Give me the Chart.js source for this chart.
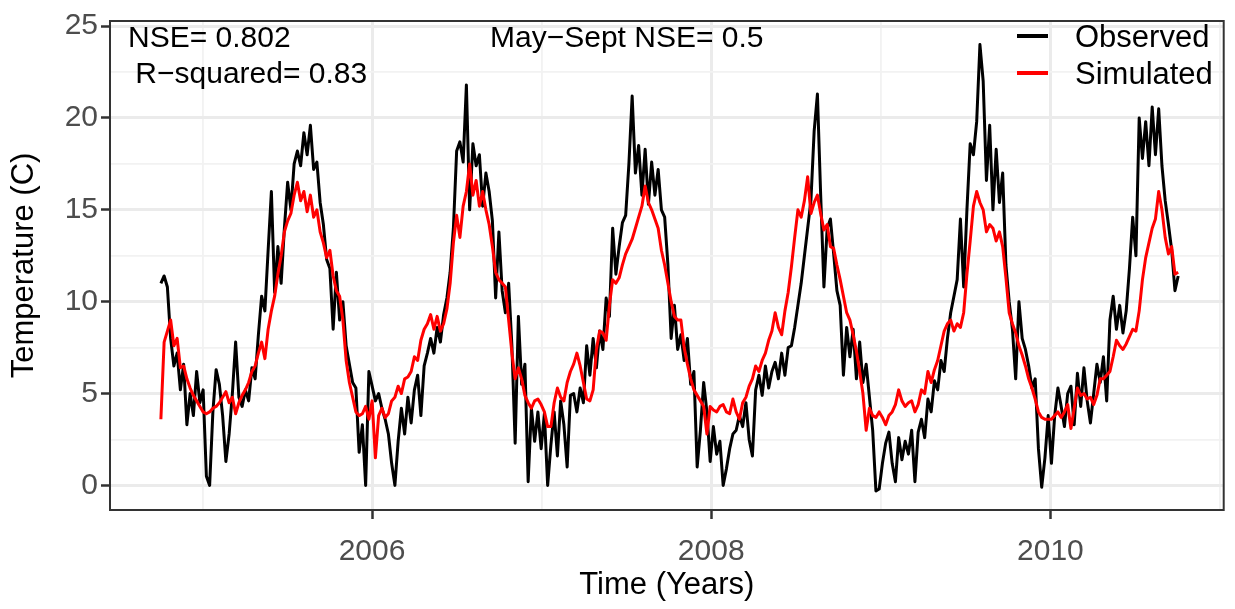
<!DOCTYPE html>
<html>
<head>
<meta charset="utf-8">
<title>Observed vs simulated temperature</title>
<script src="https://cdn.jsdelivr.net/npm/chart.js@4.4.0/dist/chart.umd.min.js"></script>
<style>
  html, body { margin: 0; padding: 0; background: #fff; }
  canvas { display: block; }
</style>
</head>
<body>
<canvas id="tempChart" width="1235" height="609"></canvas>
<script>
// weekly samples, first one late Sept 2004
const startYear = 2004.755;
const stepYears = 7 / 365.25;

const obsTemp = [
  11.0, 11.4, 10.8, 8.0, 6.5, 7.2, 5.2, 6.6, 3.3, 5.0,
  3.8, 6.2, 4.5, 5.2, 0.5, 0.0, 4.0, 6.3, 5.5, 3.8,
  1.3, 2.8, 5.0, 7.8, 4.8, 4.3, 5.2, 4.6, 6.4, 5.8,
  8.2, 10.3, 9.5, 12.8, 16.0, 10.5, 13.0, 11.0, 14.0, 16.5,
  15.0, 17.5, 18.2, 17.4, 19.2, 18.0, 19.6, 17.2, 17.6, 15.4,
  14.2, 12.3, 11.8, 8.5, 11.6, 9.0, 10.0, 7.6, 6.6, 5.6,
  5.3, 1.8, 3.3, 0.0, 6.2, 5.4, 4.6, 5.0, 4.2, 3.6,
  2.8, 1.2, 0.0, 2.4, 4.2, 2.8, 4.8, 3.4, 5.2, 6.0,
  3.8, 6.5, 7.2, 8.0, 7.2, 8.6, 7.8, 9.3, 10.2, 11.6,
  14.0, 18.2, 18.7, 17.6, 21.8, 15.0, 18.6, 17.4, 18.0, 15.2,
  17.0, 16.0, 14.4, 10.2, 13.8, 10.6, 9.4, 11.0, 7.6, 2.3,
  9.2, 5.5, 6.6, 0.2, 4.2, 2.4, 4.0, 2.0, 3.9, 0.0,
  2.2, 4.0, 1.6, 4.6, 3.3, 1.0, 4.9, 5.0, 4.0, 5.3,
  4.5, 7.6, 6.0, 8.0, 6.4, 8.4, 7.4, 10.2, 9.2, 14.0,
  11.5, 13.0, 14.3, 14.7, 17.5, 21.2, 17.0, 18.5, 15.8, 18.3,
  15.3, 17.6, 15.8, 17.2, 15.0, 14.6, 12.0, 8.0, 9.8, 7.4,
  8.2, 6.8, 8.0, 5.5, 6.2, 1.0, 3.0, 5.6, 4.0, 1.3,
  3.2, 1.7, 2.4, 0.0, 0.9, 2.0, 2.8, 3.0, 3.8, 3.2,
  4.5, 2.5, 1.6, 5.2, 6.0, 4.9, 6.5, 5.3, 6.2, 6.7,
  5.8, 7.2, 6.0, 7.5, 7.6, 8.6, 9.8, 11.0, 12.5, 14.0,
  15.5, 19.3, 21.3, 15.8, 10.8, 14.0, 14.5, 12.6, 10.6, 9.8,
  6.0, 8.6, 7.0, 8.5, 5.8, 7.8, 5.6, 6.6, 4.8, 3.0,
  -0.3, -0.2, 1.2, 2.3, 2.9, 1.2, 0.2, 2.6, 1.4, 2.4,
  1.7, 3.0, 0.2, 2.9, 3.6, 2.6, 4.7, 4.0, 5.7, 5.2,
  6.8, 6.2, 8.0, 9.4, 10.3, 11.2, 14.5, 10.8, 15.0, 18.6,
  18.0, 19.8, 24.0, 22.0, 16.6, 19.6, 15.0, 18.3, 15.4, 17.0,
  12.0, 10.0, 8.5, 5.8, 10.0, 8.0, 7.4, 6.5, 5.3, 5.8,
  2.0, -0.1, 1.5, 3.8, 1.2, 3.8, 5.3, 4.3, 3.2, 5.0,
  5.4, 3.3, 6.1, 4.3, 6.4, 4.6, 3.4, 5.0, 6.6, 5.6,
  7.0, 4.6, 9.0, 10.3, 8.5, 9.8, 8.3, 9.5, 11.8, 14.6,
  12.5, 20.0, 17.8, 19.8, 17.4, 20.6, 18.0, 20.5, 17.4, 15.5,
  14.2, 12.8, 10.6, 11.4
];

const simTemp = [
  3.6, 7.8, 8.4, 9.0, 7.6, 8.0, 6.4, 6.5, 5.8, 5.3,
  4.9, 4.6, 4.3, 4.0, 3.9, 4.0, 4.2, 4.3, 4.5, 4.8,
  5.1, 4.5, 4.8, 3.9, 4.5, 4.9, 5.2, 5.6, 6.2, 6.5,
  7.2, 7.8, 6.9, 8.5, 9.5, 10.3, 11.5, 12.5, 13.8, 14.4,
  14.8, 15.8, 16.5, 15.5, 16.0, 14.9, 15.8, 14.6, 15.0, 13.8,
  13.2, 12.4, 12.8, 11.4, 10.6, 10.3, 9.0, 6.8, 5.6, 4.8,
  4.0, 3.8, 3.9, 4.3, 3.6, 4.6, 1.5, 3.8, 4.2, 3.7,
  3.9, 4.6, 4.8, 5.4, 5.0, 5.8, 5.9, 6.2, 7.0, 6.8,
  7.9, 8.5, 8.8, 9.3, 8.5, 9.2, 8.4, 8.8, 9.6, 11.0,
  13.2, 14.7, 13.5, 15.2, 16.0, 17.5, 15.8, 16.6, 15.2, 16.0,
  15.0, 14.2, 13.0, 11.6, 11.2, 11.0, 10.8, 9.0, 7.2, 5.8,
  6.4, 5.8, 4.9, 4.5, 4.2, 4.6, 4.7, 4.4, 4.0, 3.2,
  3.2, 4.5, 5.3, 4.8, 4.6, 5.6, 6.2, 6.6, 7.2, 6.5,
  5.6, 4.7, 4.6, 5.2, 7.4, 8.4, 8.3, 7.9, 9.8, 11.2,
  11.0, 11.3, 12.0, 12.6, 13.0, 13.4, 14.0, 14.6, 15.2, 16.3,
  15.4, 15.0, 14.5, 14.0, 12.8, 12.0, 11.0, 10.0, 9.2, 9.0,
  9.0, 7.5, 6.6, 5.8, 5.2, 4.9, 4.6, 4.3, 2.8, 4.3,
  4.1, 4.0, 4.3, 4.4, 4.0, 3.9, 4.7, 4.0, 3.6, 4.5,
  4.8, 5.4, 5.8, 6.5, 6.2, 6.8, 7.2, 7.9, 8.4, 9.4,
  8.6, 8.2, 9.5, 10.5, 11.9, 13.5, 15.0, 14.6, 15.5, 16.8,
  14.8, 15.4, 15.8, 14.8, 13.9, 14.2, 13.0, 12.9, 12.0, 11.2,
  10.3, 9.4, 9.0, 8.2, 7.3, 6.2, 5.0, 3.0, 4.2, 3.8,
  3.7, 4.0, 3.7, 3.3, 3.8, 4.0, 4.4, 5.2, 4.6, 4.3,
  4.5, 4.6, 4.0, 4.4, 5.2, 5.0, 6.2, 5.6, 6.3, 6.8,
  7.6, 8.4, 8.8, 9.0, 8.4, 8.8, 8.6, 9.4, 11.5, 13.3,
  15.2, 16.0, 15.4, 15.0, 13.8, 14.2, 14.0, 13.3, 13.8, 13.0,
  11.3, 9.4, 8.8, 8.3, 7.6, 7.1, 6.5, 5.8, 5.3, 4.7,
  4.0, 3.7, 3.6, 3.6, 3.6, 3.8, 4.0, 3.7, 4.0, 4.4,
  3.1, 4.2, 5.3, 4.9, 5.0, 4.7, 4.8, 4.4, 4.9, 5.8,
  5.8, 6.0, 6.2, 7.0, 7.9, 7.6, 7.4, 7.7, 8.1, 8.5,
  8.4, 9.5, 11.2, 12.4, 13.2, 14.0, 14.5, 16.0, 15.0, 13.5,
  12.6, 13.0, 11.5, 11.6
];

const xMajorTicks = [2006, 2008, 2010];
const xTickLabels = ["2006", "2008", "2010"];
const xMinorTicks = [2005, 2007, 2009, 2011];
const yMajorTicks = [0, 5, 10, 15, 20, 25];
const yTickLabels = ["0", "5", "10", "15", "20", "25"];
const yMinorTicks = [2.5, 7.5, 12.5, 17.5, 22.5];

const seriesNames = ["Observed", "Simulated"];
const statLabels = ["NSE= 0.802", " R\u2212squared= 0.83", "May\u2212Sept NSE= 0.5"];

const FONT = '"Liberation Sans", Arial, sans-serif';

function toPoints(values) {
  return values.map((v, i) => ({ x: startYear + i * stepYears, y: v }));
}

function isMajor(list, v) {
  return list.some(m => Math.abs(m - v) < 1e-6);
}

// panel border, text annotations and legend drawn inside the panel
const panelDecor = {
  id: "panelDecor",
  afterDraw(chart) {
    const { ctx, chartArea: a } = chart;
    ctx.save();
    ctx.strokeStyle = "#333333";
    ctx.lineWidth = 2;
    ctx.strokeRect(a.left, a.top, a.right - a.left, a.bottom - a.top);

    ctx.fillStyle = "#000";
    ctx.font = "30px " + FONT;
    ctx.textAlign = "left";
    ctx.textBaseline = "alphabetic";
    ctx.fillText(statLabels[0], 128, 47);
    ctx.fillText(statLabels[1], 127, 83);
    ctx.fillText(statLabels[2], 490, 47);

    // legend
    const colors = ["#000000", "#ff0000"];
    const rows = [36, 73];
    ctx.font = "31px " + FONT;
    seriesNames.forEach((name, i) => {
      ctx.strokeStyle = colors[i];
      ctx.lineWidth = 4;
      ctx.beginPath();
      ctx.moveTo(1017, rows[i]);
      ctx.lineTo(1048, rows[i]);
      ctx.stroke();
      ctx.fillStyle = "#000";
      ctx.fillText(name, 1075, rows[i] + 11);
    });
    ctx.restore();
  }
};

const ctx = document.getElementById("tempChart").getContext("2d");

new Chart(ctx, {
  type: "line",
  data: {
    datasets: [
      {
        label: seriesNames[0],
        data: toPoints(obsTemp),
        borderColor: "#000000",
        borderWidth: 3,
        borderJoinStyle: "round",
        pointRadius: 0,
        tension: 0,
        order: 1
      },
      {
        label: seriesNames[1],
        data: toPoints(simTemp),
        borderColor: "#ff0000",
        borderWidth: 3,
        borderJoinStyle: "round",
        pointRadius: 0,
        tension: 0,
        order: 0
      }
    ]
  },
  options: {
    responsive: false,
    devicePixelRatio: 1,
    animation: false,
    layout: { padding: { left: 0, top: 13, right: 8, bottom: 0 } },
    plugins: {
      legend: { display: false },
      tooltip: { enabled: false }
    },
    scales: {
      x: {
        type: "linear",
        min: 2004.455,
        max: 2011.022,
        afterBuildTicks: s => {
          s.ticks = [...xMinorTicks, ...xMajorTicks].sort((p, q) => p - q).map(v => ({ value: v }));
        },
        afterFit: s => { s.height = 99; },
        ticks: {
          autoSkip: false,
          maxRotation: 0,
          color: "#4d4d4d",
          font: { family: FONT, size: 30 },
          padding: 15,
          callback: v => {
            const k = xMajorTicks.findIndex(m => Math.abs(m - v) < 1e-6);
            return k >= 0 ? xTickLabels[k] : "";
          }
        },
        grid: {
          color: c => isMajor(xMajorTicks, c.tick.value) ? "#ebebeb" : "#f2f2f2",
          lineWidth: c => isMajor(xMajorTicks, c.tick.value) ? 3 : 1.8,
          tickColor: c => isMajor(xMajorTicks, c.tick.value) ? "#333333" : "rgba(0,0,0,0)",
          tickLength: 9,
          tickWidth: 2.5
        },
        border: { display: false },
        title: {
          display: true,
          text: "Time (Years)",
          color: "#000",
          font: { family: FONT, size: 31 },
          padding: { top: 0, bottom: 5 }
        }
      },
      y: {
        min: -1.34,
        max: 25.28,
        afterBuildTicks: s => {
          s.ticks = [...yMajorTicks, ...yMinorTicks].sort((p, q) => p - q).map(v => ({ value: v }));
        },
        afterFit: s => { s.width = 110; },
        ticks: {
          autoSkip: false,
          color: "#4d4d4d",
          font: { family: FONT, size: 30 },
          padding: 3,
          callback: v => {
            const k = yMajorTicks.findIndex(m => Math.abs(m - v) < 1e-6);
            return k >= 0 ? yTickLabels[k] : "";
          }
        },
        grid: {
          color: c => isMajor(yMajorTicks, c.tick.value) ? "#ebebeb" : "#f2f2f2",
          lineWidth: c => isMajor(yMajorTicks, c.tick.value) ? 3 : 1.8,
          tickColor: c => isMajor(yMajorTicks, c.tick.value) ? "#333333" : "rgba(0,0,0,0)",
          tickLength: 9,
          tickWidth: 2.5
        },
        border: { display: false },
        title: {
          display: true,
          text: "Temperature (C)",
          color: "#000",
          font: { family: FONT, size: 31 },
          padding: { top: 6, bottom: 0 }
        }
      }
    }
  },
  plugins: [panelDecor]
});
</script>
</body>
</html>
